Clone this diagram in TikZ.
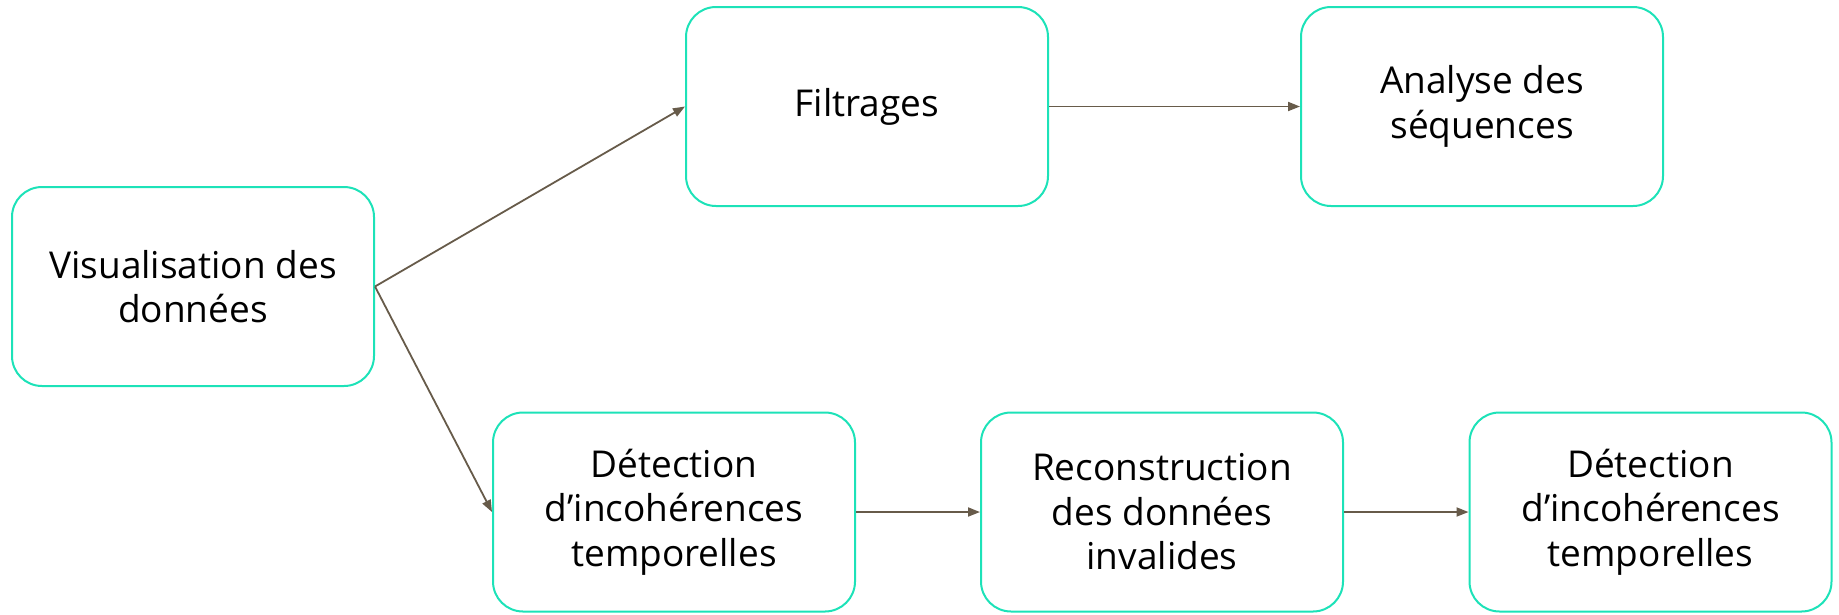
\documentclass[tikz,border=0pt]{standalone}
\usepackage{fontspec}
\setmainfont{Open Sans}
\usetikzlibrary{arrows.meta}
\definecolor{boxline}{HTML}{1DE2B8}
\definecolor{flow}{HTML}{675B4A}
\begin{document}
\begin{tikzpicture}[x=1pt,y=-1pt,
  stagebox/.style={draw=boxline, line width=2pt, rounded corners=30pt,
    minimum width=362pt, minimum height=199pt, align=center,
    font=\fontsize{37}{44.5}\selectfont, text=black, inner sep=0pt},
  flowarrow/.style={draw=flow, line width=1.8pt,
    -{Triangle[length=12pt,width=9pt]}}]
  \useasboundingbox (0,0) rectangle (1839,614);
  \node[stagebox] (vis)  at (193,286.5)   {Visualisation des\\donn\'ees};
  \node[stagebox] (filt) at (867,106.5)   {Filtrages};
  \node[stagebox] (ana)  at (1482,106.5)  {Analyse des\\s\'equences};
  \node[stagebox] (det1) at (674,512)     {D\'etection\\d’incoh\'erences\\temporelles};
  \node[stagebox] (rec)  at (1162,512)    {Reconstruction\\des donn\'ees\\invalides};
  \node[stagebox] (det2) at (1650.5,512)  {D\'etection\\d’incoh\'erences\\temporelles};
  \draw[flowarrow] (vis.east) -- (filt.west);
  \draw[flowarrow] (vis.east) -- (det1.west);
  \draw[flowarrow] (filt.east) -- (ana.west);
  \draw[flowarrow] (det1.east) -- (rec.west);
  \draw[flowarrow] (rec.east) -- (det2.west);
\end{tikzpicture}
\end{document}
